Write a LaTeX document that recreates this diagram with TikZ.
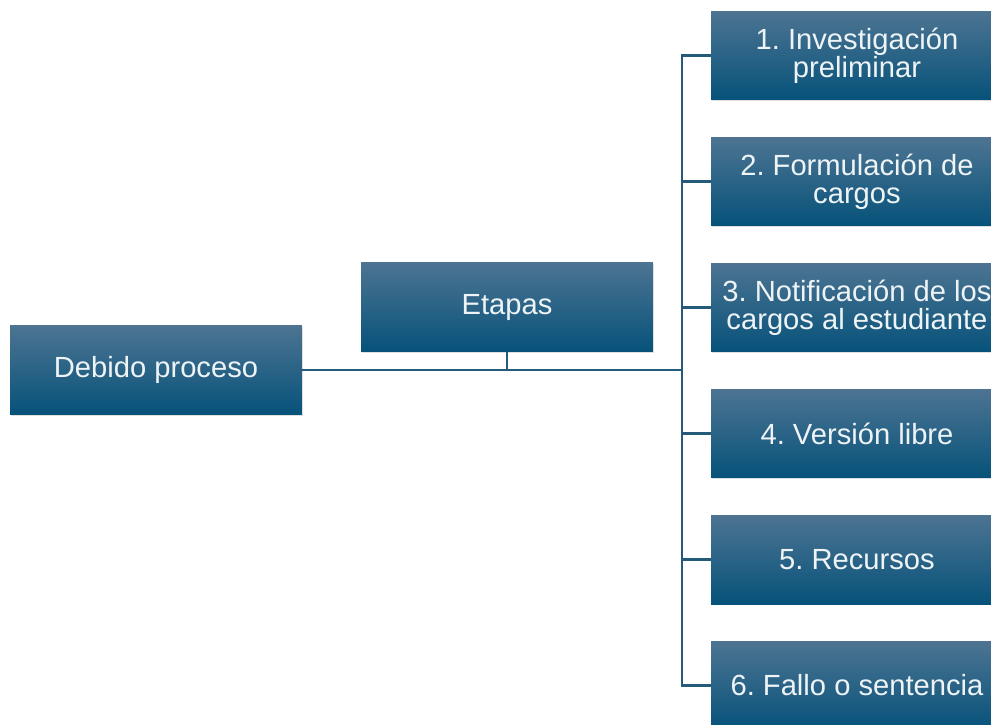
\documentclass[tikz,border=0pt]{standalone}
\usepackage{fontspec}
\setmainfont{Liberation Sans}
\frenchspacing
\usetikzlibrary{shadows}
\definecolor{boxtop}{HTML}{4D7492}
\definecolor{boxmid}{HTML}{135F85}
\definecolor{boxbot}{HTML}{06527A}
\definecolor{linkcol}{HTML}{245B7A}
\definecolor{textcol}{HTML}{EEF3F6}
\begin{document}
\begin{tikzpicture}[x=0.02cm, y=-0.02cm]
% Box and connector styles
\tikzstyle{etapa_box} = [rectangle, minimum width=5.84cm, minimum height=1.78cm, text centered, align=center, inner sep=0pt,
    top color=boxtop, middle color=boxmid, bottom color=boxbot, text=textcol,
    font=\fontsize{16.6}{16}\selectfont,
    drop shadow={shadow xshift=0.6pt, shadow yshift=-0.8pt, opacity=0.25, fill=gray}]
\tikzstyle{link} = [draw=linkcol, line width=1.2pt]

\useasboundingbox (0,0) rectangle (991,724);

% Root and middle node
\node[etapa_box] (proceso) at (156,370) {Debido proceso};
\node[etapa_box] (etapas) at (507,307) {Etapas};

% Stages
\node[etapa_box] (paso1) at (857,55.5) {1. Investigación\\preliminar};
\node[etapa_box] (paso2) at (857,181.5) {2. Formulación de\\cargos};
\node[etapa_box] (paso3) at (857,307.5) {3. Notificación de los\\cargos al estudiante};
\node[etapa_box] (paso4) at (857,433.5) {4. Versión libre};
\node[etapa_box] (paso5) at (857,559.5) {5. Recursos};
\node[etapa_box] (paso6) at (857,685.5) {6. Fallo o sentencia};

% Connectors
\coordinate (bus) at (682,370);
\draw[link] (proceso.east) -- (bus);
\draw[link] (etapas.south) -- (etapas.south |- bus);
\draw[link] (paso1.west) -- (paso1.west -| bus) -- (paso6.west -| bus) -- (paso6.west);
\foreach \i in {2,...,5} {
    \draw[link] (paso\i.west) -- (paso\i.west -| bus);
}
\end{tikzpicture}
\end{document}
